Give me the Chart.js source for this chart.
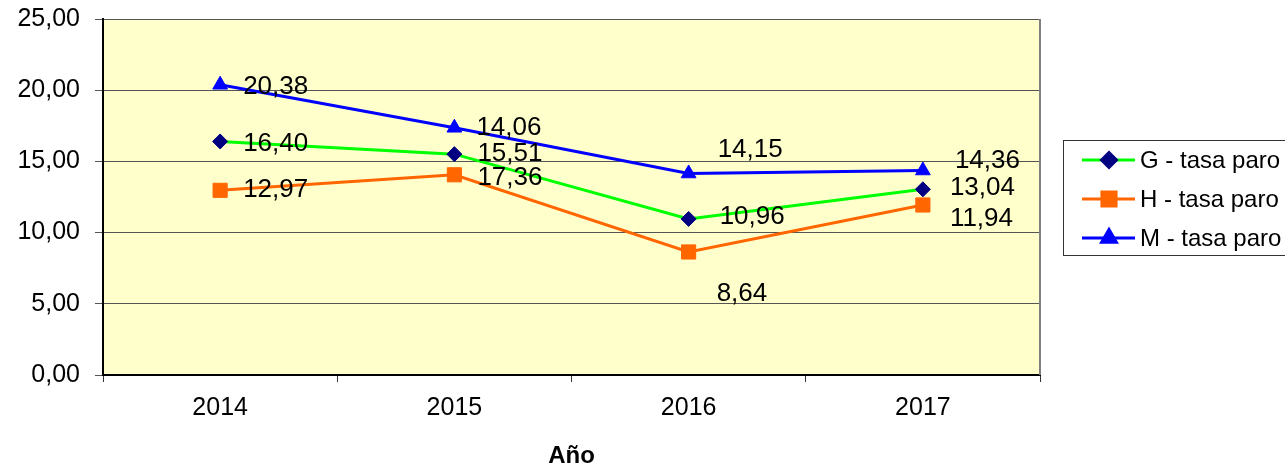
<!DOCTYPE html>
<html lang="es">
<head>
<meta charset="utf-8">
<title>Tasa de paro por año</title>
<script src="https://cdn.jsdelivr.net/npm/chart.js@4.4.1/dist/chart.umd.min.js"></script>
<style>
  html, body { margin: 0; padding: 0; background: #ffffff; }
  #wrap { width: 1285px; height: 471px; }
</style>
</head>
<body>
<div id="wrap"><canvas id="paroChart" width="1285" height="471"></canvas></div>
<script>
const years = ["2014", "2015", "2016", "2017"];
const tasaG = [16.40, 15.51, 10.96, 13.04];
const tasaH = [12.97, 14.06, 8.64, 11.94];
const tasaM = [20.38, 17.36, 14.15, 14.36];

// texts as they appear next to the points in the original
const etiquetasG = ["16,40", "15,51", "10,96", "13,04"];
const etiquetasH = ["12,97", "17,36", "8,64", "11,94"];
const etiquetasM = ["20,38", "14,06", "14,15", "14,36"];

const yMin = 0;
const yMax = 25;
const yStep = 5;

// where each label sits relative to its point (dx, dy)
const labelOffsets = [
  [[23, 2], [23, 0], [31, -2], [27, -1]],
  [[23, 0], [23, 3], [28, 42], [27, 14]],
  [[23, 2], [22, 0], [29, -24], [32, -10]],
];

const FONT = "Arial, 'Liberation Sans', sans-serif";
const decimalFormatter = new Intl.NumberFormat("es-ES", {
  minimumFractionDigits: 2,
  maximumFractionDigits: 2,
});

const chartPlugin = {
  id: "excelLook",
  beforeDraw(chart) {
    const { ctx, chartArea } = chart;
    ctx.save();
    ctx.fillStyle = "#ffffcc";
    ctx.fillRect(chartArea.left, chartArea.top, chartArea.right - chartArea.left, chartArea.bottom - chartArea.top);
    ctx.restore();
  },
  afterDatasetsDraw(chart) {
    const { ctx } = chart;
    const allLabels = [etiquetasG, etiquetasH, etiquetasM];
    ctx.save();
    ctx.font = `26px ${FONT}`;
    ctx.fillStyle = "#000000";
    ctx.textAlign = "left";
    ctx.textBaseline = "middle";
    chart.data.datasets.forEach((dataset, i) => {
      const meta = chart.getDatasetMeta(i);
      meta.data.forEach((point, j) => {
        const [dx, dy] = labelOffsets[i][j];
        ctx.fillText(allLabels[i][j], point.x + dx, point.y + dy);
      });
    });
    ctx.restore();
  },
  afterDraw(chart) {
    const { ctx, chartArea } = chart;
    ctx.save();
    // right edge of plot area
    ctx.strokeStyle = "#808080";
    ctx.lineWidth = 2;
    ctx.beginPath();
    ctx.moveTo(chartArea.right, chartArea.top);
    ctx.lineTo(chartArea.right, chartArea.bottom);
    ctx.stroke();

    // legend box
    const boxX = 1063.5;
    const boxY = 140.5;
    ctx.fillStyle = "#ffffff";
    ctx.strokeStyle = "#333333";
    ctx.lineWidth = 1;
    ctx.fillRect(boxX, boxY, 222, 115);
    ctx.strokeRect(boxX, boxY, 222, 115);

    const rows = [160, 199, 238];
    chart.data.datasets.forEach((dataset, i) => {
      const y = rows[i];
      ctx.strokeStyle = dataset.borderColor;
      ctx.lineWidth = dataset.borderWidth;
      ctx.beginPath();
      ctx.moveTo(1082, y);
      ctx.lineTo(1135, y);
      ctx.stroke();
      ctx.fillStyle = dataset.pointBackgroundColor;
      ctx.strokeStyle = dataset.pointBorderColor;
      Chart.helpers.drawPoint(ctx, {
        pointStyle: dataset.pointStyle,
        radius: dataset.pointRadius,
        borderWidth: dataset.pointBorderWidth,
        rotation: 0,
      }, 1109, y);
      ctx.fillStyle = "#000000";
      ctx.font = `24px ${FONT}`;
      ctx.textAlign = "left";
      ctx.textBaseline = "middle";
      ctx.fillText(dataset.label, 1140, y + 1);
    });
    ctx.restore();
  },
};

function buildDataset(label, data, lineColor, markerColor, pointStyle, radius) {
  return {
    label,
    data,
    borderColor: lineColor,
    borderWidth: 3,
    pointStyle,
    pointRadius: radius,
    pointHoverRadius: radius,
    pointBackgroundColor: markerColor,
    pointBorderColor: markerColor,
    pointBorderWidth: 1,
    tension: 0,
    fill: false,
  };
}

const chart = new Chart(document.getElementById("paroChart").getContext("2d"), {
  type: "line",
  data: {
    labels: years,
    datasets: [
      buildDataset("G - tasa paro", tasaG, "#00ff00", "#000080", "rectRot", 7.5),
      buildDataset("H - tasa paro", tasaH, "#ff6600", "#ff6600", "rect", 10),
      buildDataset("M - tasa paro", tasaM, "#0000ff", "#0000ff", "triangle", 8.5),
    ],
  },
  options: {
    responsive: false,
    animation: false,
    devicePixelRatio: 1,
    layout: {
      padding: { top: 19, right: 245, bottom: 0, left: 0 },
    },
    plugins: {
      legend: { display: false },
      tooltip: { enabled: false },
    },
    scales: {
      x: {
        offset: true,
        grid: {
          offset: true,
          drawOnChartArea: false,
          drawTicks: true,
          tickLength: 7,
          color: "#333333",
        },
        border: { color: "#000000", width: 2 },
        ticks: {
          color: "#000000",
          font: { family: FONT, size: 25 },
          padding: 11,
        },
        title: {
          display: true,
          text: "Año",
          color: "#000000",
          font: { family: FONT, size: 24, weight: "bold" },
          padding: { top: 0, bottom: 0 },
        },
        afterFit(scale) {
          scale.height = 96;
        },
      },
      y: {
        min: yMin,
        max: yMax,
        grid: {
          color: "#555555",
          lineWidth: 1,
          tickLength: 8,
        },
        border: { color: "#000000", width: 2 },
        ticks: {
          stepSize: yStep,
          color: "#000000",
          font: { family: FONT, size: 25 },
          padding: 15,
          callback(value) {
            return decimalFormatter.format(value);
          },
        },
        afterFit(scale) {
          scale.width = 103;
          scale.paddingTop = 0;
          scale.paddingBottom = 0;
        },
      },
    },
  },
  plugins: [chartPlugin],
});
</script>
</body>
</html>
